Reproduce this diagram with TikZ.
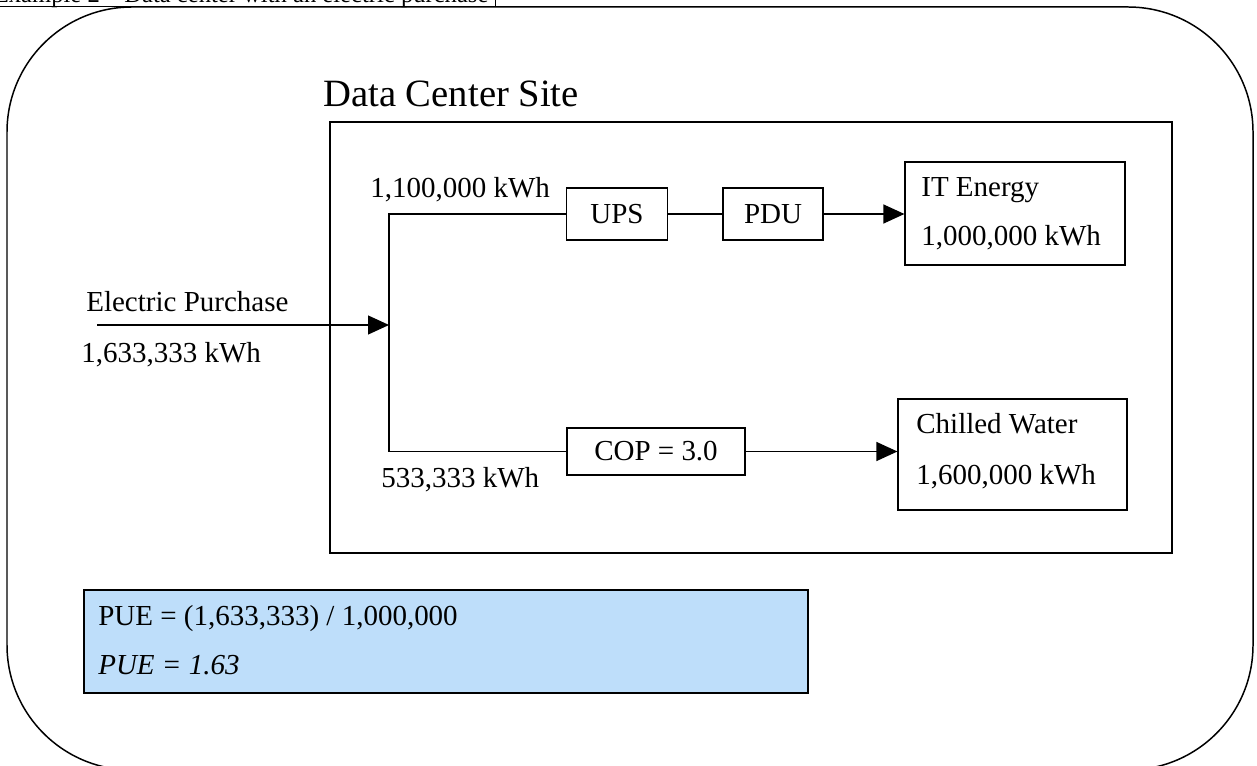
\documentclass[tikz,border=0pt]{standalone}
\usepackage{fontspec}
\setmainfont{Liberation Serif}
\usetikzlibrary{arrows.meta}
\definecolor{pueblue}{RGB}{190,222,250}

\begin{document}
\begin{tikzpicture}[x=0.02cm,y=-0.02cm]
      % \tikzset{every node/.style={draw=red}}
      \tikzset{txt/.style={anchor=base west, inner sep=0pt, font=\fontsize{16.5}{19}\selectfont}}
      \tikzset{box/.style={draw, line width=0.7pt, inner sep=0pt, font=\fontsize{16.5}{19}\selectfont}}
      \tikzset{wire/.style={line width=0.7pt}}
      \tikzset{feed/.style={wire, -{Triangle[length=0.42cm,width=0.38cm]}}}
      \useasboundingbox (0,0) rectangle (1257,766);
      \clip (0,0) rectangle (1257,766);
      \draw[line width=0.85pt, rounded corners=2.5cm] (7,7) rectangle (1253,770);
      \node[draw, fill=white, line width=0.7pt, anchor=south east, inner xsep=4pt, inner ysep=2pt, text depth=0pt,
            font=\fontsize{14}{17}\selectfont] (title) at (496,7) {Example 2 -- Data center with an electric purchase};
      \node[txt, font=\fontsize{22}{26}\selectfont] (sitename) at (323,107) {Data Center Site};
      \node[box, minimum width=16.84cm, minimum height=8.62cm] (site) at (751,337.5) {};
      \node[txt] (upskwh) at (370,198) {1,100,000 kWh};
      \node[box, minimum width=2.02cm, minimum height=1.04cm] (ups) at (617,214) {UPS};
      \node[box, minimum width=2cm, minimum height=1.04cm] (pdu) at (773,214) {PDU};
      \node[box, minimum width=4.4cm, minimum height=2.06cm] (it) at (1015,213.5) {};
      \node[txt] (itname) at (921,197) {IT Energy};
      \node[txt] (itkwh) at (921,246) {1,000,000 kWh};
      \node[txt] (buyname) at (86,312) {Electric Purchase};
      \node[txt] (buykwh) at (81,363) {1,633,333 kWh};
      \coordinate (src) at (97,325);
      \coordinate (split) at (389,325);
      \node[txt] (copkwh) at (381,487) {533,333 kWh};
      \node[box, minimum width=3.56cm, minimum height=0.94cm] (cop) at (656,451.5) {COP = 3.0};
      \node[box, minimum width=4.58cm, minimum height=2.22cm] (chw) at (1012.5,454.5) {};
      \node[txt] (chwname) at (916,434) {Chilled Water};
      \node[txt] (chwkwh) at (916,484) {1,600,000 kWh};
      \node[box, fill=pueblue, minimum width=14.48cm, minimum height=2.06cm] (pue) at (446,641.5) {};
      \node[txt] (pueform) at (98,625) {PUE = (1,633,333) / 1,000,000};
      \node[txt, font=\fontsize{16.5}{19}\itshape] (pueval) at (98,674) {PUE = 1.63};
      \draw[feed] (src) -- (split);
      \draw[wire] (ups.west) -| (split) |- (cop.west);
      \draw[wire] (ups) -- (pdu);
      \draw[feed] (pdu.east) -- (pdu.east -| it.west);
      \draw[feed] (cop.east) -- (cop.east -| chw.west);
    \end{tikzpicture}
\end{document}
